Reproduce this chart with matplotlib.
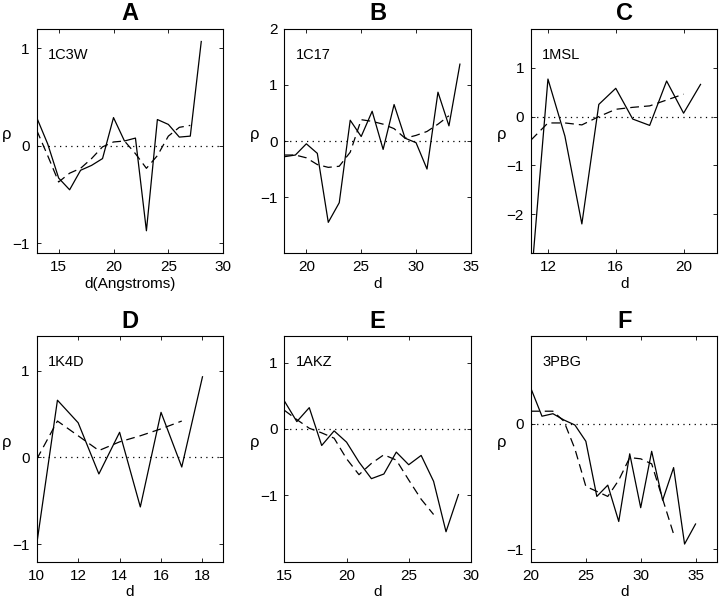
import numpy as np
import matplotlib
matplotlib.use('Agg')
import matplotlib.pyplot as plt

plt.rcParams['font.family'] = ['Liberation Sans', 'DejaVu Sans']
plt.rcParams['axes.linewidth'] = 0.8

# panel A - 1C3W
a_x = list(range(13, 29))
a_solid = [0.29, 0.02, -0.33, -0.45, -0.25, -0.2, -0.13, 0.29, 0.05, 0.08, -0.87, 0.27, 0.22, 0.09, 0.1, 1.07]
a_dash_x = list(range(13, 28))
a_dash = [0.16, -0.1, -0.37, -0.28, -0.23, -0.13, -0.01, 0.04, 0.05, -0.08, -0.23, -0.1, 0.1, 0.19, 0.21]

# panel B - 1C17
b_x = list(range(18, 35))
b_solid = [-0.28, -0.25, -0.05, -0.22, -1.45, -1.1, 0.37, 0.08, 0.53, -0.15, 0.65, 0.05, -0.03, -0.5, 0.87, 0.27, 1.37]
b_dash_x = list(range(18, 34))
b_dash = [-0.25, -0.25, -0.3, -0.42, -0.47, -0.45, -0.2, 0.38, 0.35, 0.3, 0.22, 0.05, 0.1, 0.17, 0.3, 0.45]

# panel C - 1MSL
c_x = list(range(11, 22))
c_solid = [-3.4, 0.77, -0.4, -2.2, 0.25, 0.58, -0.05, -0.18, 0.73, 0.07, 0.66]
c_dash_x = list(range(11, 21))
c_dash = [-0.48, -0.13, -0.13, -0.17, 0.0, 0.15, 0.19, 0.22, 0.34, 0.46]

# panel D - 1K4D
d_x = list(range(10, 19))
d_solid = [-1.0, 0.66, 0.4, -0.19, 0.29, -0.57, 0.52, -0.11, 0.93]
d_dash_x = list(range(10, 18))
d_dash = [-0.02, 0.42, 0.25, 0.08, 0.18, 0.25, 0.33, 0.42]

# panel E - 1AKZ
e_x = list(range(15, 30))
e_solid = [0.42, 0.11, 0.32, -0.25, -0.03, -0.2, -0.5, -0.75, -0.68, -0.35, -0.54, -0.4, -0.79, -1.55, -0.99]
e_dash_x = list(range(15, 28))
e_dash = [0.28, 0.14, 0.01, -0.06, -0.14, -0.45, -0.69, -0.52, -0.39, -0.47, -0.77, -1.06, -1.29]

# panel F - 3PBG
f_x = list(range(20, 36))
f_solid = [0.28, 0.06, 0.08, 0.03, -0.01, -0.14, -0.58, -0.49, -0.78, -0.24, -0.67, -0.22, -0.61, -0.35, -0.96, -0.8]
f_dash_x = list(range(20, 34))
f_dash = [0.1, 0.1, 0.1, 0.02, -0.2, -0.5, -0.54, -0.58, -0.45, -0.27, -0.28, -0.32, -0.6, -0.88]

panels = [
    ('A', '1C3W', a_x, a_solid, a_dash_x, a_dash, (13, 30), (-1.1, 1.2), [15, 20, 25, 30], [-1, 0, 1], 'd(Angstroms)'),
    ('B', '1C17', b_x, b_solid, b_dash_x, b_dash, (18, 35), (-2, 2), [20, 25, 30, 35], [-1, 0, 1, 2], 'd'),
    ('C', '1MSL', c_x, c_solid, c_dash_x, c_dash, (11, 22), (-2.8, 1.8), [12, 16, 20], [-2, -1, 0, 1], 'd'),
    ('D', '1K4D', d_x, d_solid, d_dash_x, d_dash, (10, 19), (-1.2, 1.4), [10, 12, 14, 16, 18], [-1, 0, 1], 'd'),
    ('E', '1AKZ', e_x, e_solid, e_dash_x, e_dash, (15, 30), (-2, 1.4), [15, 20, 25, 30], [-1, 0, 1], 'd'),
    ('F', '3PBG', f_x, f_solid, f_dash_x, f_dash, (20, 37), (-1.1, 0.7), [20, 25, 30, 35], [-1, 0], 'd'),
]

lefts = [0.051, 0.395, 0.7375]
width = 0.259
rows = [(0.578, 0.374), (0.064, 0.376)]

fig = plt.figure(figsize=(7.2, 6), dpi=100)

for i, (letter, name, x, ys, dx, dy, xl, yl, xt, yt, xlab) in enumerate(panels):
    bottom, height = rows[i // 3]
    ax = fig.add_axes([lefts[i % 3], bottom, width, height])
    ax.plot(xl, [0, 0], color='black', lw=0.9, linestyle=(0, (1, 3.5)))
    ax.plot(dx, dy, color='black', lw=0.9, linestyle=(0, (7, 4)))
    ax.plot(x, ys, color='black', lw=0.9)
    ax.set_xlim(xl)
    ax.set_ylim(yl)
    ax.set_xticks(xt)
    ax.set_yticks(yt)
    ax.tick_params(direction='in', top=True, right=True, length=3, width=0.6, labelsize=11, pad=5)
    ax.set_title(letter, fontsize=17, fontweight='bold', pad=6)
    ax.set_xlabel(xlab, fontsize=11, labelpad=2)
    ax.set_ylabel('\u03c1', fontsize=12, rotation=0, va='center')
    ax.yaxis.set_label_coords(-0.16, 0.53)
    ax.text(0.06, 0.885, name, transform=ax.transAxes, fontsize=10.5, ha='left', va='center')

fig.savefig('out.png', dpi=100)
